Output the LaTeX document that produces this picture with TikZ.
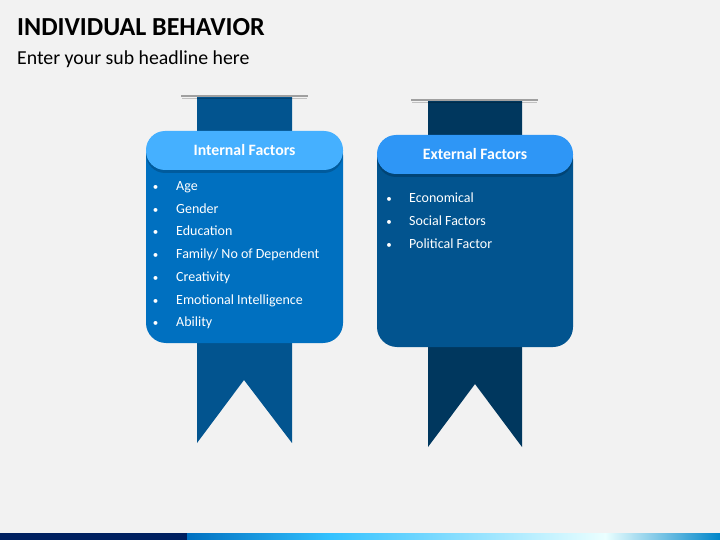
\documentclass[tikz,border=0pt]{standalone}
\usepackage{fontspec}
\setmainfont{Carlito}
\usepackage{tikz}
\usetikzlibrary{positioning}

\definecolor{bggray}{HTML}{F2F2F2}
\definecolor{cardin}{HTML}{0070C0}
\definecolor{headin}{HTML}{45B0FF}
\definecolor{ribin}{HTML}{02548F}
\definecolor{cardex}{HTML}{02548F}
\definecolor{headex}{HTML}{2E96F6}
\definecolor{ribex}{HTML}{00375E}
\definecolor{hanger}{HTML}{A0A0A0}
\definecolor{navy}{HTML}{002060}

\begin{document}
\begin{tikzpicture}[x=1pt,y=-1pt,
    item/.style={anchor=base west,inner sep=0pt,text=white,font=\fontsize{14}{16}\selectfont},
    dot/.style={anchor=base,inner sep=0pt,text=white,font=\fontsize{11}{13}\selectfont},
    head/.style={anchor=base,inner sep=0pt,text=white,font=\fontsize{15.8}{18}\selectfont\bfseries}]
            \useasboundingbox (0,0) rectangle (720,540);
            \fill[bggray] (0,0) rectangle (720,540);

            % title lines
            \node[anchor=base west,inner sep=0pt,font=\fontsize{26}{29}\selectfont\bfseries](title)at(17,36){INDIVIDUAL BEHAVIOR};
            \node[anchor=base west,inner sep=0pt,font=\fontsize{19.8}{23}\selectfont](sub)at(17,65){Enter your sub headline here};

            % internal factors tag
            \fill[ribin] (197,97) -- (292,97) -- (292,443) -- (244,380) -- (197,443) -- cycle;
            \draw[black,opacity=.2,line width=1.2pt] (182,98.2) -- (307,98.2);
            \draw[hanger,line width=2pt] (181,96.5) -- (308,96.5);
            \fill[cardin,rounded corners=20pt] (146,135) rectangle (343,343);
            \fill[black,opacity=.18,rounded corners=19pt] (146,133) rectangle (343,173);
            \fill[headin,rounded corners=19pt] (146,131) rectangle (343,170);
            \node[head](inh)at(244.5,156){Internal Factors};

            \node[dot](ib1)at(155.5,190.5){\textbullet};  \node[item](i1)at(176,190.5){Age};
            \node[dot](ib2)at(155.5,213.2){\textbullet};  \node[item](i2)at(176,213.2){Gender};
            \node[dot](ib3)at(155.5,235.9){\textbullet};  \node[item](i3)at(176,235.9){Education};
            \node[dot](ib4)at(155.5,258.6){\textbullet};  \node[item](i4)at(176,258.6){Family/ No of Dependent};
            \node[dot](ib5)at(155.5,281.3){\textbullet};  \node[item](i5)at(176,281.3){Creativity};
            \node[dot](ib6)at(155.5,304.0){\textbullet};  \node[item](i6)at(176,304.0){Emotional Intelligence};
            \node[dot](ib7)at(155.5,326.7){\textbullet};  \node[item](i7)at(176,326.7){Ability};

            % external factors tag
            \fill[ribex] (428,101) -- (522,101) -- (522,447) -- (475,384) -- (428,447) -- cycle;
            \draw[black,opacity=.2,line width=1.2pt] (412,102.2) -- (537,102.2);
            \draw[hanger,line width=2pt] (411,100.5) -- (538,100.5);
            \fill[cardex,rounded corners=20pt] (377,139) rectangle (573,347);
            \fill[black,opacity=.18,rounded corners=19pt] (377,137) rectangle (573,177);
            \fill[headex,rounded corners=19pt] (377,135) rectangle (573,174);
            \node[head](exh)at(475,160){External Factors};

            \node[dot](eb1)at(389,202.7){\textbullet};  \node[item](e1)at(409,202.7){Economical};
            \node[dot](eb2)at(389,225.4){\textbullet};  \node[item](e2)at(409,225.4){Social Factors};
            \node[dot](eb3)at(389,248.1){\textbullet};  \node[item](e3)at(409,248.1){Political Factor};

            % bottom strip
            \fill[navy] (0,533) rectangle (187,540);
            \shade[left color=cardin,right color=cyan!70!blue!80!white] (187,533) rectangle (330.5,540);
            \shade[left color=cyan!70!blue!80!white,right color=white!92!cyan] (330,533) rectangle (605.5,540);
            \shade[left color=white!92!cyan,right color=cardin!85!cyan] (605,533) rectangle (720,540);
\end{tikzpicture}
\end{document}
